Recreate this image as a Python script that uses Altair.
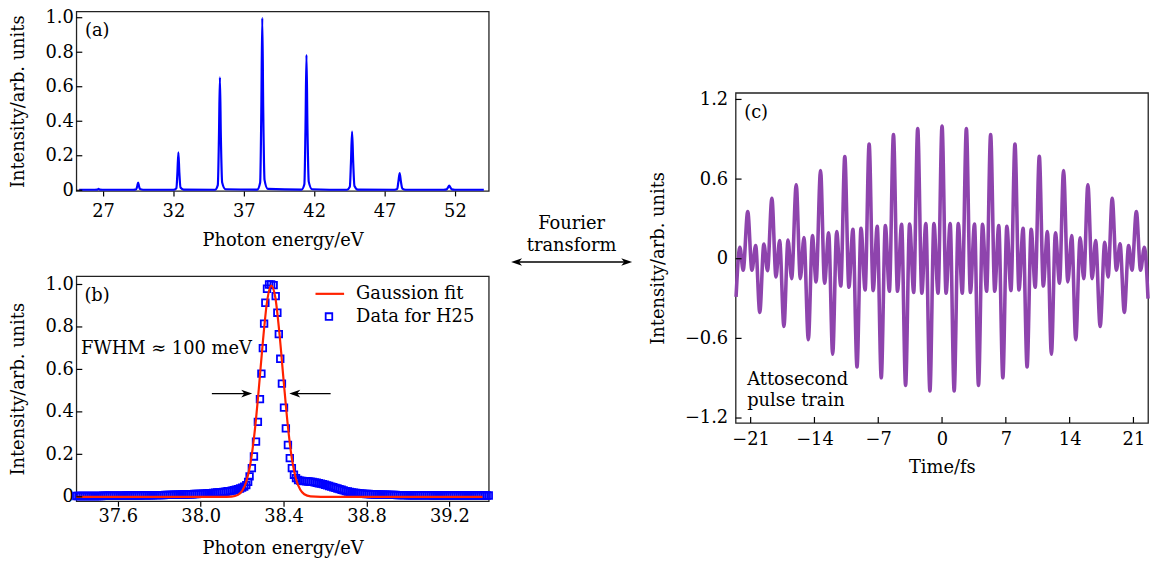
import altair as alt
import pandas as pd

FONT = "DejaVu Serif"
BLUE = "#0000ff"
RED = "#ff2200"
PURPLE = "#8e44ad"

# ---------------- panel (a): HHG spectrum ----------------
a_energy = [25.30, 26.40, 26.60, 26.68, 26.76, 26.95,
            29.15, 29.36, 29.43, 29.49, 29.55, 29.62, 29.85,
            32.00, 32.21, 32.28, 32.35, 32.42, 32.50, 32.72,
            34.95, 35.15, 35.23, 35.30, 35.37, 35.46, 35.70,
            37.95, 38.16, 38.24, 38.31, 38.38, 38.47, 38.70,
            41.10, 41.30, 41.38, 41.45, 41.52, 41.61, 41.85,
            44.33, 44.53, 44.61, 44.69, 44.77, 44.86, 45.10,
            47.70, 47.90, 47.98, 48.07, 48.16, 48.26, 48.50,
            51.20, 51.40, 51.50, 51.59, 51.68, 51.78, 52.00, 54.05]
a_intensity = [0.003, 0.003, 0.004, 0.008, 0.004, 0.003,
               0.003, 0.006, 0.025, 0.045, 0.025, 0.007, 0.003,
               0.003, 0.012, 0.10, 0.22, 0.10, 0.016, 0.004,
               0.003, 0.03, 0.30, 0.655, 0.30, 0.045, 0.006,
               0.004, 0.045, 0.45, 1.0, 0.45, 0.06, 0.008,
               0.004, 0.035, 0.36, 0.785, 0.36, 0.05, 0.006,
               0.003, 0.02, 0.16, 0.34, 0.16, 0.025, 0.004,
               0.003, 0.008, 0.05, 0.10, 0.05, 0.01, 0.003,
               0.003, 0.005, 0.016, 0.027, 0.016, 0.005, 0.003, 0.003]
a_xticks = [27, 32, 37, 42, 47, 52]
ab_yticks = [0, 0.2, 0.4, 0.6, 0.8, 1.0]

# ---------------- panel (b): H25 data and Gaussian fit ----------------
b_data_energy = [
    37.40, 37.41, 37.42, 37.43, 37.44, 37.45, 37.46, 37.47, 37.48, 37.49,
    37.50, 37.51, 37.52, 37.53, 37.54, 37.55, 37.56, 37.57, 37.58, 37.59,
    37.60, 37.61, 37.62, 37.63, 37.64, 37.65, 37.66, 37.67, 37.68, 37.69,
    37.70, 37.71, 37.72, 37.73, 37.74, 37.75, 37.76, 37.77, 37.78, 37.79,
    37.80, 37.81, 37.82, 37.83, 37.84, 37.85, 37.86, 37.87, 37.88, 37.89,
    37.90, 37.91, 37.92, 37.93, 37.94, 37.95, 37.96, 37.97, 37.98, 37.99,
    38.00, 38.01, 38.02, 38.03, 38.04, 38.05, 38.06, 38.07, 38.08, 38.09,
    38.10, 38.11, 38.12, 38.13, 38.14, 38.15, 38.16, 38.17, 38.18, 38.19,
    38.20, 38.21, 38.22,
    38.229, 38.236, 38.247, 38.257, 38.267, 38.276, 38.286, 38.293, 38.300, 38.306,
    38.312, 38.320, 38.330, 38.340, 38.352, 38.362, 38.370, 38.377, 38.384, 38.392,
    38.402, 38.411, 38.421, 38.430, 38.440, 38.450, 38.460, 38.470,
    38.48, 38.49,
    38.50, 38.51, 38.52, 38.53, 38.54, 38.55, 38.56, 38.57, 38.58, 38.59,
    38.60, 38.61, 38.62, 38.63, 38.64, 38.65, 38.66, 38.67, 38.68, 38.69,
    38.70, 38.71, 38.72, 38.73, 38.74, 38.75, 38.76, 38.77, 38.78, 38.79,
    38.80, 38.81, 38.82, 38.83, 38.84, 38.85, 38.86, 38.87, 38.88, 38.89,
    38.90, 38.91, 38.92, 38.93, 38.94, 38.95, 38.96, 38.97, 38.98, 38.99,
    39.00, 39.01, 39.02, 39.03, 39.04, 39.05, 39.06, 39.07, 39.08, 39.09,
    39.10, 39.11, 39.12, 39.13, 39.14, 39.15, 39.16, 39.17, 39.18, 39.19,
    39.20, 39.21, 39.22, 39.23, 39.24, 39.25, 39.26, 39.27, 39.28, 39.29,
    39.30, 39.31, 39.32, 39.33, 39.34, 39.35, 39.36, 39.37, 39.38, 39.39]
b_data_intensity = [
    0.004, 0.004, 0.004, 0.004, 0.004, 0.004, 0.004, 0.004, 0.004, 0.004,
    0.004, 0.004, 0.004, 0.005, 0.005, 0.005, 0.005, 0.005, 0.005, 0.005,
    0.005, 0.005, 0.005, 0.005, 0.006, 0.006, 0.006, 0.006, 0.006, 0.006,
    0.006, 0.006, 0.007, 0.007, 0.007, 0.007, 0.007, 0.007, 0.008, 0.008,
    0.008, 0.008, 0.008, 0.009, 0.009, 0.009, 0.009, 0.010, 0.010, 0.010,
    0.010, 0.011, 0.011, 0.011, 0.012, 0.012, 0.012, 0.013, 0.013, 0.014,
    0.014, 0.015, 0.015, 0.016, 0.017, 0.017, 0.018, 0.019, 0.020, 0.021,
    0.022, 0.023, 0.024, 0.026, 0.027, 0.029, 0.031, 0.033, 0.036, 0.039,
    0.043, 0.048, 0.055,
    0.070, 0.096, 0.135, 0.190, 0.260, 0.353, 0.460, 0.580, 0.700, 0.816,
    0.914, 0.980, 1.000, 1.000, 0.997, 0.945, 0.867, 0.766, 0.650, 0.533,
    0.420, 0.322, 0.244, 0.182, 0.135, 0.104, 0.088, 0.079,
    0.076, 0.075,
    0.074, 0.073, 0.072, 0.071, 0.070, 0.068, 0.066, 0.064, 0.062, 0.060,
    0.057, 0.054, 0.051, 0.048, 0.045, 0.042, 0.039, 0.036, 0.033, 0.030,
    0.027, 0.025, 0.023, 0.021, 0.019, 0.018, 0.017, 0.016, 0.015, 0.014,
    0.013, 0.013, 0.012, 0.012, 0.011, 0.011, 0.011, 0.010, 0.010, 0.010,
    0.010, 0.009, 0.009, 0.009, 0.009, 0.008, 0.008, 0.008, 0.008, 0.008,
    0.007, 0.007, 0.007, 0.007, 0.007, 0.007, 0.007, 0.007, 0.007, 0.007,
    0.007, 0.007, 0.006, 0.006, 0.006, 0.006, 0.006, 0.006, 0.006, 0.006,
    0.006, 0.006, 0.006, 0.006, 0.006, 0.006, 0.006, 0.006, 0.006, 0.006,
    0.006, 0.006, 0.006, 0.006, 0.006, 0.006, 0.006, 0.006, 0.006, 0.006]
b_fit_energy = [37.40, 38.10, 38.15, 38.18, 38.20, 38.22, 38.24, 38.26, 38.28, 38.30,
                38.32, 38.34, 38.36, 38.38, 38.40, 38.42, 38.44, 38.46, 38.48, 38.50,
                38.53, 38.58, 39.36]
b_fit_intensity = [0.0, 0.0, 0.001, 0.009, 0.028, 0.071, 0.157, 0.302, 0.504, 0.730,
                   0.917, 0.995, 0.940, 0.770, 0.550, 0.340, 0.180, 0.084, 0.034, 0.012,
                   0.002, 0.0, 0.0]
b_xticks = [37.6, 38.0, 38.4, 38.8, 39.2]

# ---------------- panel (c): attosecond pulse train ----------------
c_time = [-22.60, -22.18, -21.82, -21.32, -20.86, -20.45, -20.00, -19.55, -19.15, -18.67,
          -18.22, -17.82, -17.35, -16.90, -16.50, -16.00, -15.55, -15.15, -14.67, -14.22,
          -13.82, -13.33, -12.89, -12.44, -12.00, -11.56, -11.11, -10.67, -10.22, -9.78,
          -9.33, -8.89, -8.44, -8.00, -7.56, -7.11, -6.67, -6.22, -5.78, -5.33,
          -4.89, -4.44, -4.00, -3.56, -3.11, -2.67, -2.22, -1.78, -1.33, -0.89,
          -0.44, 0.00, 0.44, 0.89, 1.33, 1.78, 2.22, 2.67, 3.11, 3.56,
          4.00, 4.44, 4.89, 5.33, 5.78, 6.22, 6.67, 7.11, 7.56, 8.00,
          8.44, 8.89, 9.33, 9.78, 10.22, 10.67, 11.11, 11.56, 12.00, 12.44,
          12.89, 13.33, 13.80, 14.23, 14.67, 15.15, 15.55, 16.00, 16.47, 16.85,
          17.35, 17.85, 18.22, 18.67, 19.13, 19.53, 20.00, 20.47, 20.84, 21.32,
          21.78, 22.20, 22.60]
c_amplitude = [-0.287, 0.087, -0.087, 0.356, -0.087, 0.100, -0.404, 0.110, -0.090, 0.456,
               -0.137, 0.137, -0.510, 0.140, -0.150, 0.558, -0.150, 0.160, -0.610, 0.174,
               -0.175, 0.665, -0.185, 0.195, -0.720, 0.205, -0.205, 0.770, -0.215, 0.222,
               -0.815, 0.230, -0.235, 0.864, -0.240, 0.245, -0.897, 0.250, -0.245, 0.935,
               -0.245, 0.260, -0.955, 0.262, -0.255, 0.980, -0.260, 0.266, -0.997, 0.266,
               -0.260, 1.000, -0.260, 0.266, -0.997, 0.266, -0.260, 0.980, -0.255, 0.262,
               -0.955, 0.260, -0.245, 0.935, -0.245, 0.250, -0.897, 0.245, -0.240, 0.864,
               -0.235, 0.230, -0.815, 0.222, -0.215, 0.772, -0.205, 0.205, -0.720, 0.195,
               -0.185, 0.665, -0.175, 0.174, -0.610, 0.157, -0.150, 0.558, -0.150, 0.137,
               -0.510, 0.124, -0.137, 0.456, -0.087, 0.112, -0.404, 0.100, -0.087, 0.356,
               -0.087, 0.087, -0.300]
c_xticks = [-21, -14, -7, 0, 7, 14, 21]
c_yticks = [-1.2, -0.6, 0, 0.6, 1.2]

# ---------------- layout ----------------
W = 416
HA, HB, HC = 181, 227, 333
LBL = "datum.value == 0 ? '0' : format(datum.value, '.1f')"
RIGHT_HEAD = "M1,0L-1,-0.7L-0.45,0L-1,0.7Z"
LEFT_HEAD = "M-1,0L1,-0.7L0.45,0L1,0.7Z"
YTITLE = "Intensity/arb. units"

xs_a = alt.Scale(domain=[25.1, 54.4], nice=False, zero=False)
ys_a = alt.Scale(domain=[-0.004, 1.036], nice=False, zero=False)
xs_b = alt.Scale(domain=[37.4, 39.39], nice=False, zero=False)
ys_b = alt.Scale(domain=[-0.021, 1.039], nice=False, zero=False)
xs_c = alt.Scale(domain=[-22.65, 22.6], nice=False, zero=False)
ys_c = alt.Scale(domain=[-1.237, 1.25], nice=False, zero=False)

xa_a = alt.Axis(values=a_xticks, format="d", title="Photon energy/eV",
                tickSize=5, labelPadding=7, titlePadding=11)
ya_a = alt.Axis(values=ab_yticks, labelExpr=LBL, title=YTITLE,
                ticks=False, tickSize=0, labelPadding=3, titlePadding=18)
xa_b = alt.Axis(values=b_xticks, format=".1f", title="Photon energy/eV",
                tickSize=5, labelPadding=1, titlePadding=15)
ya_b = alt.Axis(values=ab_yticks, labelExpr=LBL, title=YTITLE,
                ticks=False, tickSize=0, labelPadding=3, titlePadding=18)
xa_c = alt.Axis(values=c_xticks, format="d", title="Time/fs",
                ticks=False, tickSize=0, labelPadding=8, titlePadding=10)
ya_c = alt.Axis(values=c_yticks, labelExpr=LBL, title=YTITLE,
                ticks=False, tickSize=0, labelPadding=8, titlePadding=17)

P = {"a": (xs_a, ys_a, xa_a, ya_a), "b": (xs_b, ys_b, xa_b, ya_b), "c": (xs_c, ys_c, xa_c, ya_c)}


def xy(p):
    xs, ys, xa, ya = P[p]
    return dict(x=alt.X("x:Q", scale=xs, axis=xa), y=alt.Y("y:Q", scale=ys, axis=ya))


def texts(p, xv, yv, tv, align="left"):
    df = pd.DataFrame({"x": xv, "y": yv, "t": tv})
    return alt.Chart(df).mark_text(align=align, baseline="middle", font=FONT,
                                   fontSize=18, color="black").encode(text="t:N", **xy(p))


def ytick_rules(p, vals):
    xs, ys, xa, ya = P[p]
    return alt.Chart(pd.DataFrame({"y": vals})).mark_rule(color="black", strokeWidth=1.2).encode(
        y=alt.Y("y:Q", scale=ys, axis=ya), x=alt.value(0), x2=alt.value(6))


def head(p, xv, yv, shape):
    return alt.Chart(pd.DataFrame({"x": [xv], "y": [yv]})).mark_point(
        shape=shape, filled=True, size=121, color="black", opacity=1).encode(**xy(p))


# panel (a)
a_line = alt.Chart(pd.DataFrame({"x": a_energy, "y": a_intensity})).mark_line(
    color=BLUE, strokeWidth=2.2, interpolate="monotone").encode(**xy("a"))
panel_a = alt.layer(
    a_line, ytick_rules("a", ab_yticks), texts("a", [25.71], [0.924], ["(a)"])
).properties(width=W, height=HA)

# panel (b)
b_sq = alt.Chart(pd.DataFrame({"x": b_data_energy, "y": b_data_intensity})).mark_point(
    shape="square", filled=False, color=BLUE, size=44, strokeWidth=1.8, opacity=1).encode(**xy("b"))
b_fit = alt.Chart(pd.DataFrame({"x": b_fit_energy, "y": b_fit_intensity})).mark_line(
    color=RED, strokeWidth=2.2, interpolate="monotone").encode(**xy("b"))
b_leg_line = alt.Chart(pd.DataFrame({"x": [38.554, 38.692], "y": [0.956, 0.956]})).mark_line(
    color=RED, strokeWidth=2.2).encode(**xy("b"))
b_leg_sq = alt.Chart(pd.DataFrame({"x": [38.619], "y": [0.849]})).mark_point(
    shape="square", filled=False, color=BLUE, size=44, strokeWidth=1.8, opacity=1).encode(**xy("b"))
b_arrows = alt.Chart(pd.DataFrame({"x": [38.054, 38.235, 38.44, 38.627],
                                   "y": [0.486, 0.486, 0.486, 0.486],
                                   "g": ["l", "l", "r", "r"]})).mark_line(
    color="black", strokeWidth=1.4).encode(detail="g:N", **xy("b"))
panel_b = alt.layer(
    b_sq, b_fit, ytick_rules("b", ab_yticks),
    texts("b", [37.439], [0.945], ["(b)"]),
    texts("b", [37.423], [0.696], ["FWHM \u2248 100 meV"]),
    b_leg_line, b_leg_sq,
    texts("b", [38.75, 38.75], [0.956, 0.849], ["Gaussion fit", "Data for H25"]),
    b_arrows, head("b", 38.222, 0.486, RIGHT_HEAD), head("b", 38.454, 0.486, LEFT_HEAD),
).properties(width=W, height=HB)

# panel (c)
c_line = alt.Chart(pd.DataFrame({"x": c_time, "y": c_amplitude})).mark_line(
    color=PURPLE, strokeWidth=3.6, interpolate="monotone", strokeJoin="round").encode(**xy("c"))
c_xt = alt.Chart(pd.DataFrame({"x": c_xticks})).mark_rule(color="black", strokeWidth=1.2).encode(
    x=alt.X("x:Q", scale=xs_c, axis=xa_c), y=alt.value(HC), y2=alt.value(HC - 6))
c_arrow = alt.Chart(pd.DataFrame({"x": [-46.8, -34.5], "y": [-0.025, -0.025]})).mark_line(
    color="black", strokeWidth=1.4).encode(**xy("c"))
panel_c = alt.layer(
    c_line, ytick_rules("c", c_yticks), c_xt,
    texts("c", [-21.71], [1.096], ["(c)"]),
    texts("c", [-21.38, -21.38], [-0.917, -1.072], ["Attosecond", "pulse train"]),
    texts("c", [-40.64, -40.64], [0.264, 0.099], ["Fourier", "transform"], align="center"),
    c_arrow, head("c", -46.68, -0.025, LEFT_HEAD), head("c", -34.6, -0.025, RIGHT_HEAD),
).properties(width=W, height=HC)

left = alt.vconcat(panel_a, panel_b, spacing=24)
chart = alt.hconcat(left, panel_c, spacing=13, center=True).properties(
    padding={"left": 8, "top": 5, "right": 0, "bottom": 0}
).configure_view(stroke="#222222", strokeWidth=1.3).configure_axis(
    domain=False, grid=False, labelFont=FONT, labelFontSize=18, titleFont=FONT, titleFontSize=18,
    titleFontWeight="normal", labelColor="black", titleColor="black", tickColor="black", tickWidth=1.2)

chart.save("out.html", embed_options={"renderer": "svg", "actions": False})
